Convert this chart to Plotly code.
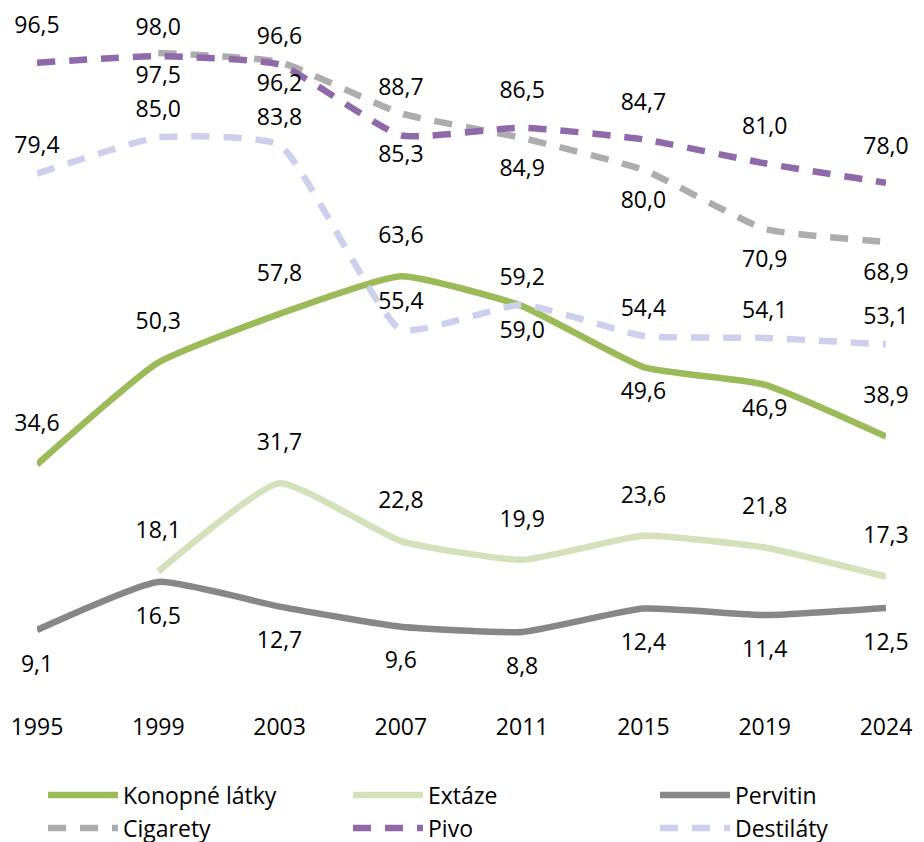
import plotly.graph_objects as go

years = ["1995", "1999", "2003", "2007", "2011", "2015", "2019", "2024"]

konopne = [34.6, 50.3, 57.8, 63.6, 59.0, 49.6, 46.9, 38.9]
extaze = [None, 18.1, 31.7, 22.8, 19.9, 23.6, 21.8, 17.3]
pervitin = [9.1, 16.5, 12.7, 9.6, 8.8, 12.4, 11.4, 12.5]
cigarety = [None, 98.0, 96.6, 88.7, 84.9, 80.0, 70.9, 68.9]
pivo = [96.5, 97.5, 96.2, 85.3, 86.5, 84.7, 81.0, 78.0]
destilaty = [79.4, 85.0, 83.8, 55.4, 59.2, 54.4, 54.1, 53.1]

# label placement (above / below the point)
pos_konopne = ["top", "top", "top", "top", "bottom", "bottom", "bottom", "top"]
pos_extaze = ["top"] * 8
pos_pervitin = ["bottom"] * 8
pos_cigarety = ["top", "top", "top", "top", "bottom", "bottom", "bottom", "bottom"]
pos_pivo = ["top", "bottom", "bottom", "bottom", "top", "top", "top", "top"]
pos_destilaty = ["top"] * 8

FONT = "Open Sans"
FS = 23
# page has an 8px body margin: compensate
OFF = 8


def fmt(v):
    return "" if v is None else f"{v:.1f}".replace(".", ",")


# name, values, label positions, colour, dash, (label gap above, label gap below)
series = [
    ("Konopné látky", konopne, pos_konopne, "#9BBB59", "solid", (40, 24)),
    ("Extáze", extaze, pos_extaze, "#D3E2BB", "solid", (40, 30)),
    ("Pervitin", pervitin, pos_pervitin, "#878787", "solid", (36, 34)),
    ("Cigarety", cigarety, pos_cigarety, "#ADADAD", "18px,14px", (25, 30)),
    ("Pivo", pivo, pos_pivo, "#8F69AA", "18px,14px", (36, 19)),
    ("Destiláty", destilaty, pos_destilaty, "#CDD0EC", "18px,14px", (27, 30)),
]

# legend slots (text start x, row centre y) in page pixels
legend_text_x = [125, 430, 737]
legend_row_y = [795, 828]
ITEMW = 70

x_idx = list(range(len(years)))

fig = go.Figure()
legend_layouts = {}
for i, (name, vals, pos, color, dash, gaps) in enumerate(series):
    lname = "legend" if i == 0 else f"legend{i + 1}"
    fig.add_trace(go.Scatter(
        x=x_idx, y=vals, name=name, mode="lines", legend=lname,
        line=dict(color=color, width=6.5, dash=dash, shape="spline", smoothing=0.45),
        connectgaps=False,
    ))
    col, row = i % 3, i // 3
    lx = legend_text_x[col] - (ITEMW + 12) - OFF
    ly = legend_row_y[row] - OFF
    legend_layouts[lname] = dict(
        xref="container", yref="container",
        x=lx / 924, xanchor="left", y=1 - ly / 842, yanchor="middle",
        font=dict(family=FONT, size=FS), itemwidth=ITEMW,
        bgcolor="rgba(0,0,0,0)", borderwidth=0,
    )

# data labels
for name, vals, pos, color, dash, gaps in series:
    for where, gap, extra in (("top", gaps[0], 12.5), ("bottom", gaps[1], 9.5)):
        yy = [v if p == where else None for v, p in zip(vals, pos)]
        if all(v is None for v in yy):
            continue
        size = max((gap - extra - 1) * 1.6, 1)
        fig.add_trace(go.Scatter(
            x=x_idx, y=yy, mode="markers+text", showlegend=False,
            hoverinfo="skip",
            marker=dict(size=size, opacity=0, color=color),
            text=[fmt(v) for v in yy],
            textposition=where + " center",
            textfont=dict(family=FONT, size=FS, color="#000000"),
            cliponaxis=False,
        ))

fig.update_layout(
    width=924, height=842,
    margin=dict(l=37 - OFF, r=38 + OFF, t=40 - OFF, b=153 + OFF, autoexpand=False),
    paper_bgcolor="white", plot_bgcolor="white",
    font=dict(family=FONT, size=FS, color="#000000"),
    xaxis=dict(
        range=[0, 7], tickmode="array", tickvals=x_idx, ticktext=years,
        showgrid=False, zeroline=False, showline=False,
        ticks="outside", ticklen=4, tickcolor="rgba(0,0,0,0)",
        ticklabelstandoff=13, tickfont=dict(family=FONT, size=FS),
        automargin=False,
    ),
    yaxis=dict(range=[0, 100], visible=False, showgrid=False, zeroline=False,
               automargin=False),
    showlegend=True,
    **legend_layouts,
)

fig.write_html("out.html")
